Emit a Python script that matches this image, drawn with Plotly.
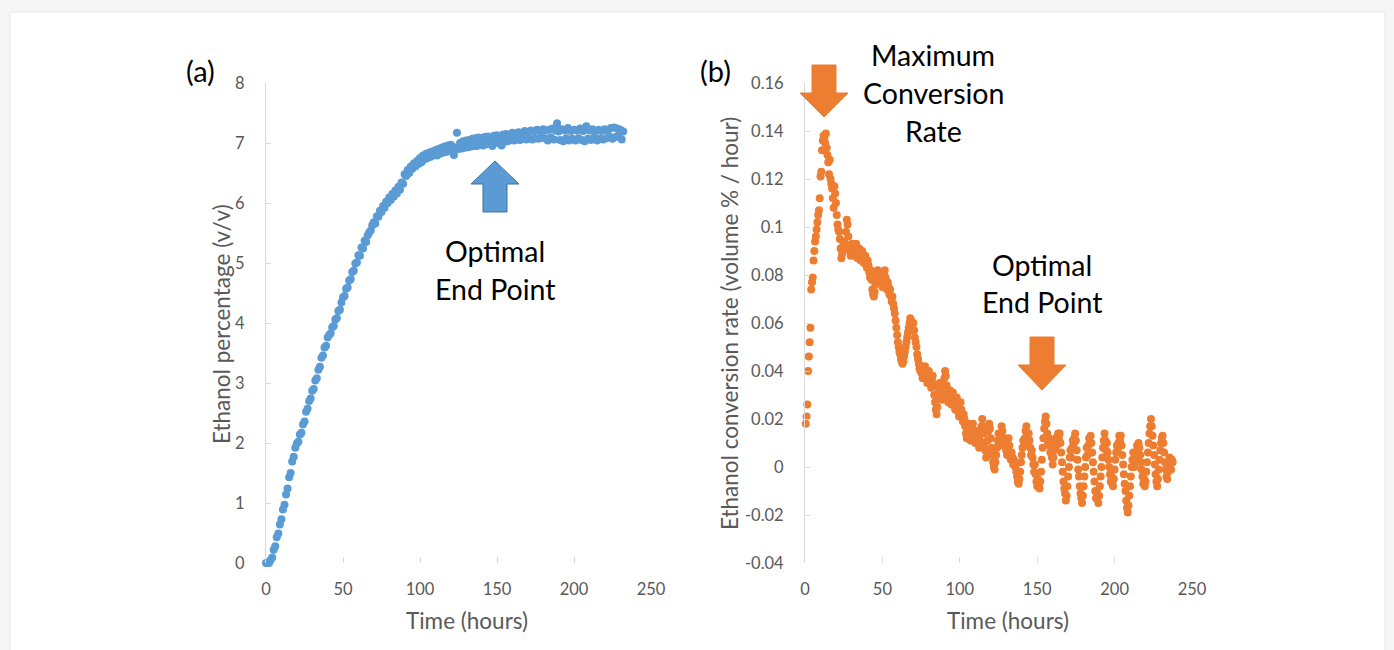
import plotly.graph_objects as go

# ---------------- data ----------------
# (a) ethanol percentage (v/v), one reading per hour from t = 0 h
ethanol_pct = [
    0.00, 0.01, 0.00, 0.05, 0.09, 0.22, 0.28, 0.43, 0.49, 0.64,
    0.73, 0.89, 0.97, 1.14, 1.24, 1.43, 1.50, 1.69, 1.77, 1.92,
    1.99, 2.02, 2.14, 2.17, 2.31, 2.36, 2.52, 2.57, 2.70, 2.74,
    2.87, 2.90, 3.04, 3.08, 3.22, 3.27, 3.42, 3.46, 3.59, 3.62,
    3.76, 3.80, 3.83, 3.93, 3.95, 4.06, 4.08, 4.20, 4.22, 4.34,
    4.43, 4.45, 4.57, 4.59, 4.71, 4.73, 4.85, 4.87, 4.99, 5.01,
    5.13, 5.12, 5.26, 5.24, 5.37, 5.35, 5.46, 5.51, 5.54, 5.63,
    5.68, 5.66, 5.78, 5.77, 5.87, 5.85, 5.95, 5.92, 6.02, 6.00,
    6.09, 6.05, 6.15, 6.11, 6.21, 6.16, 6.27, 6.22, 6.34, 6.32,
    6.48, 6.45, 6.55, 6.50, 6.61, 6.57, 6.66, 6.61, 6.70, 6.65,
    6.75, 6.68, 6.79, 6.73, 6.82, 6.75, 6.84, 6.77, 6.86, 6.80,
    6.88, 6.79, 6.90, 6.82, 6.92, 6.84, 6.94, 6.85, 6.96, 6.87,
    6.97, 6.88, 6.80, 6.93, 7.17, 6.90, 7.00, 6.91, 7.03, 6.92,
    7.04, 6.93, 7.05, 6.94, 7.07, 6.95, 7.08, 6.95, 7.09, 6.97,
    7.08, 6.96, 7.10, 6.98, 7.11, 6.99, 7.08, 6.95, 7.12, 7.00,
    7.13, 7.01, 7.09, 6.96, 7.14, 7.02, 7.15, 7.03, 7.12, 7.05,
    7.17, 7.04, 7.14, 7.06, 7.18, 7.05, 7.16, 7.07, 7.20, 7.06,
    7.18, 7.07, 7.21, 7.06, 7.19, 7.08, 7.22, 7.07, 7.20, 7.09,
    7.23, 7.08, 7.21, 7.04, 7.22, 7.09, 7.24, 7.06, 7.21, 7.33,
    7.19, 7.05, 7.23, 7.03, 7.21, 7.08, 7.25, 7.04, 7.20, 7.07,
    7.22, 7.04, 7.21, 7.08, 7.24, 7.05, 7.20, 7.03, 7.28, 7.07,
    7.21, 7.05, 7.23, 7.09, 7.19, 7.04, 7.22, 7.07, 7.20, 7.06,
    7.23, 7.08, 7.21, 7.11, 7.25, 7.07, 7.26, 7.10, 7.24, 7.13,
    7.22, 7.06, 7.19,
]
time_a = list(range(len(ethanol_pct)))          # hours

# (b) ethanol conversion rate (volume % / hour), one reading per half hour from t = 0.5 h
conv_rate = [
    0.018, 0.021, 0.026, 0.040, 0.046, 0.052, 0.058, 0.074, 0.077, 0.079,
    0.086, 0.090, 0.094, 0.096, 0.099, 0.102, 0.105, 0.107, 0.112, 0.121,
    0.123, 0.132, 0.136, 0.138, 0.137, 0.135, 0.139, 0.133, 0.130, 0.127,
    0.122, 0.128, 0.120, 0.118, 0.116, 0.112, 0.108, 0.117, 0.114, 0.110,
    0.105, 0.101, 0.099, 0.098, 0.095, 0.091, 0.087, 0.089, 0.092, 0.094,
    0.091, 0.093, 0.098, 0.103, 0.101, 0.096, 0.092, 0.090, 0.088, 0.091,
    0.093, 0.092, 0.090, 0.088, 0.091, 0.093, 0.089, 0.087, 0.090, 0.091,
    0.088, 0.086, 0.089, 0.090, 0.087, 0.085, 0.087, 0.088, 0.085, 0.083,
    0.086, 0.084, 0.081, 0.079, 0.082, 0.078, 0.074, 0.072, 0.071, 0.073,
    0.076, 0.078, 0.080, 0.082, 0.079, 0.077, 0.080, 0.081, 0.078, 0.075,
    0.077, 0.080, 0.082, 0.079, 0.076, 0.074, 0.077, 0.075, 0.072, 0.074,
    0.071, 0.069, 0.071, 0.068, 0.066, 0.064, 0.061, 0.058, 0.055, 0.052,
    0.050, 0.048, 0.047, 0.045, 0.044, 0.043, 0.044, 0.046, 0.048, 0.050,
    0.052, 0.054, 0.056, 0.058, 0.060, 0.062, 0.061, 0.059, 0.057, 0.060,
    0.057, 0.054, 0.052, 0.050, 0.047, 0.045, 0.043, 0.041, 0.040, 0.042,
    0.039, 0.037, 0.038, 0.040, 0.042, 0.039, 0.037, 0.035, 0.038, 0.040,
    0.037, 0.035, 0.033, 0.036, 0.038, 0.034, 0.030, 0.027, 0.024, 0.022,
    0.025, 0.029, 0.032, 0.035, 0.033, 0.030, 0.028, 0.031, 0.034, 0.037,
    0.040, 0.038, 0.034, 0.030, 0.027, 0.030, 0.032, 0.029, 0.026, 0.028,
    0.031, 0.029, 0.026, 0.024, 0.027, 0.029, 0.026, 0.023, 0.021, 0.024,
    0.027, 0.024, 0.021, 0.019, 0.022, 0.020, 0.017, 0.014, 0.012, 0.015,
    0.018, 0.016, 0.013, 0.011, 0.013, 0.016, 0.018, 0.015, 0.012, 0.010,
    0.012, 0.015, 0.013, 0.010, 0.008, 0.011, 0.014, 0.017, 0.020, 0.017,
    0.014, 0.010, 0.007, 0.004, 0.007, 0.011, 0.015, 0.018, 0.016, 0.012,
    0.008, 0.005, 0.002, 0.000, -0.001, 0.002, 0.005, 0.008, 0.011, 0.014,
    0.011, 0.009, 0.013, 0.017, 0.015, 0.012, 0.009, 0.012, 0.010, 0.007,
    0.005, 0.008, 0.012, 0.009, 0.006, 0.003, 0.006, 0.004, 0.001, 0.003,
    0.002, 0.000, -0.002, -0.004, -0.006, -0.007, -0.005, -0.002, 0.002, 0.005,
    0.008, 0.011, 0.009, 0.012, 0.015, 0.017, 0.014, 0.011, 0.014, 0.011,
    0.008, 0.005, 0.007, 0.004, 0.001, -0.002, 0.001, -0.003, -0.006, -0.008,
    -0.005, -0.008, -0.009, -0.006, -0.002, 0.003, 0.008, 0.012, 0.016, 0.019,
    0.021, 0.018, 0.014, 0.010, 0.012, 0.009, 0.006, 0.008, 0.004, 0.001,
    0.004, 0.007, 0.010, 0.012, 0.009, 0.011, 0.014, 0.012, 0.014, 0.010,
    0.006, 0.002, -0.002, -0.006, -0.009, -0.011, -0.014, -0.012, -0.008, -0.004,
    0.000, 0.004, 0.007, 0.004, 0.008, 0.011, 0.009, 0.012, 0.014, 0.011,
    0.007, 0.003, -0.001, -0.004, -0.008, -0.011, -0.013, -0.015, -0.012, -0.008,
    -0.004, 0.000, 0.004, 0.008, 0.005, 0.009, 0.012, 0.010, 0.013, 0.010,
    0.006, 0.002, -0.002, -0.006, -0.010, -0.013, -0.010, -0.013, -0.015, -0.012,
    -0.008, -0.004, 0.000, 0.004, 0.008, 0.011, 0.014, 0.011, 0.007, 0.010,
    0.006, 0.003, 0.000, -0.003, -0.006, -0.004, -0.007, -0.008, -0.005, -0.001,
    0.003, 0.006, 0.009, 0.007, 0.010, 0.013, 0.011, 0.013, 0.009, 0.005,
    0.001, -0.003, -0.007, -0.010, -0.014, -0.017, -0.019, -0.016, -0.012, -0.008,
    -0.004, 0.000, 0.003, 0.006, 0.003, 0.000, 0.003, 0.006, 0.009, 0.007,
    0.010, 0.008, 0.005, 0.002, -0.001, -0.004, -0.007, -0.005, -0.008, -0.006,
    -0.002, 0.002, 0.006, 0.010, 0.014, 0.017, 0.020, 0.017, 0.013, 0.009,
    0.005, 0.001, -0.003, -0.006, -0.008, -0.005, -0.001, 0.003, 0.007, 0.010,
    0.012, 0.013, 0.010, 0.006, 0.002, -0.001, -0.004, -0.005, -0.002, 0.001,
    0.004, 0.002, -0.001, 0.003, 0.002,
]
time_b = [0.5 * (i + 1) for i in range(len(conv_rate))]   # hours

x_ticks = [0, 50, 100, 150, 200, 250]
y_ticks_a = [0, 1, 2, 3, 4, 5, 6, 7, 8]
y_ticks_b = [-0.04, -0.02, 0, 0.02, 0.04, 0.06, 0.08, 0.1, 0.12, 0.14, 0.16]
y_ticktext_b = ["-0.04", "-0.02", "0", "0.02", "0.04", "0.06", "0.08", "0.1", "0.12", "0.14", "0.16"]

# ---------------- layout helpers ----------------
W, H = 1394, 650
BLUE = "#5B9BD5"
ORANGE = "#ED7D31"
GREY = "#595959"
AXIS = "#D9D9D9"
FONT = "Lato"


def px(x):
    return x / W


def py(y):
    return 1 - y / H


fig = go.Figure()
fig.add_trace(go.Scatter(x=time_a, y=ethanol_pct, mode="markers",
                         marker=dict(color=BLUE, size=8), cliponaxis=False,
                         xaxis="x", yaxis="y", showlegend=False))
fig.add_trace(go.Scatter(x=time_b, y=conv_rate, mode="markers",
                         marker=dict(color=ORANGE, size=8), cliponaxis=False,
                         xaxis="x2", yaxis="y2", showlegend=False))

tickfont = dict(family=FONT, size=16.5, color=GREY)
common_x = dict(range=[0, 250], tickvals=x_ticks, ticks="inside", ticklen=6,
                tickcolor=AXIS, tickwidth=1, showline=False, showgrid=False,
                zeroline=False, tickfont=tickfont, ticklabelstandoff=14,
                automargin=False)
common_y = dict(ticks="inside", ticklen=5, tickcolor=AXIS, tickwidth=1,
                showline=True, linecolor=AXIS, linewidth=1, showgrid=False,
                zeroline=False, tickfont=tickfont, ticklabelstandoff=17,
                automargin=False)

ydom = [py(563), py(83)]
fig.update_layout(
    width=W, height=H,
    margin=dict(l=0, r=0, t=0, b=0, pad=0, autoexpand=False),
    paper_bgcolor="#F6F6F6", plot_bgcolor="rgba(0,0,0,0)",
    xaxis=dict(domain=[px(266), px(651)], anchor="y", **common_x),
    yaxis=dict(domain=ydom, anchor="x", range=[0, 8], tickvals=y_ticks_a, **common_y),
    xaxis2=dict(domain=[px(805), px(1192)], anchor="y2", **common_x),
    yaxis2=dict(domain=ydom, anchor="x2", range=[-0.04, 0.16], tickvals=y_ticks_b,
                ticktext=y_ticktext_b, **common_y),
)

# white card
shapes = [dict(type="rect", xref="paper", yref="paper", x0=px(10), x1=px(1385),
               y0=py(680), y1=py(12), fillcolor="white", line=dict(color="#E6E6E6", width=1),
               layer="below")]


def arrow_path(cx, y_tail, y_head_base, y_tip, shaft_half, head_half):
    pts = [(cx - shaft_half, y_tail), (cx + shaft_half, y_tail),
           (cx + shaft_half, y_head_base), (cx + head_half, y_head_base),
           (cx, y_tip), (cx - head_half, y_head_base), (cx - shaft_half, y_head_base)]
    return "M " + " L ".join(f"{px(x):.5f},{py(y):.5f}" for x, y in pts) + " Z"


shapes.append(dict(type="path", xref="paper", yref="paper",
                   path=arrow_path(495, 212, 184, 161, 12, 24),
                   fillcolor=BLUE, line=dict(color="#41719C", width=1)))
shapes.append(dict(type="path", xref="paper", yref="paper",
                   path=arrow_path(824, 65, 93, 117, 12, 24),
                   fillcolor=ORANGE, line=dict(color=ORANGE, width=1)))
shapes.append(dict(type="path", xref="paper", yref="paper",
                   path=arrow_path(1042, 337, 365, 390, 12, 24),
                   fillcolor=ORANGE, line=dict(color=ORANGE, width=1)))
fig.update_layout(shapes=shapes)


def label(text, x, y, size, color="black", angle=0):
    fig.add_annotation(text=text, x=px(x), y=py(y), xref="paper", yref="paper",
                       showarrow=False, xanchor="center", yanchor="middle",
                       textangle=angle, font=dict(family=FONT, size=size, color=color))


label("(a)", 200, 70, 29)
label("(b)", 715, 70, 29)
label("Optimal", 495, 251, 28.5)
label("End Point", 495, 289, 28.5)
label("Maximum", 933, 55, 28.5)
label("Conversion", 933, 93, 28.5)
label("Rate", 933, 131, 28.5)
label("Optimal", 1042, 265, 28.5)
label("End Point", 1042, 302, 28.5)
label("Ethanol percentage (v/v)", 221, 324, 22.5, GREY, -90)
label("Time (hours)", 467, 620, 22.5, GREY)
label("Ethanol conversion rate (volume % / hour)", 729, 324, 22.5, GREY, -90)
label("Time (hours)", 1008, 620, 22.5, GREY)

fig.write_html("out.html")
